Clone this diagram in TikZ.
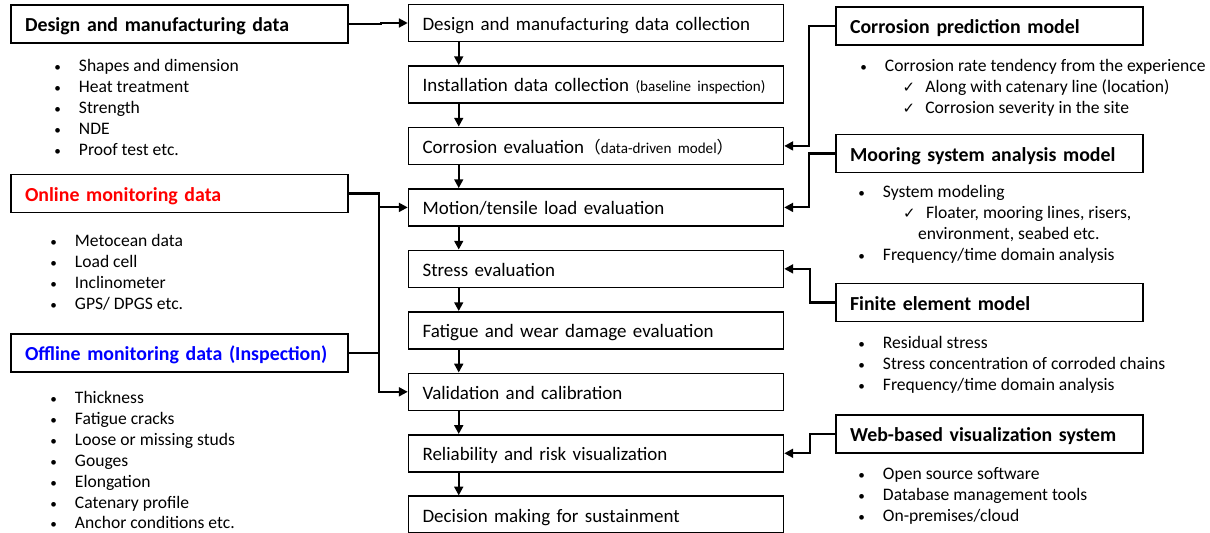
\documentclass[tikz,border=0pt]{standalone}
\usepackage{fontspec}
\usepackage{xcolor}
\setmainfont{Carlito}
\newfontfamily\symfont{DejaVu Sans}
\newfontfamily\cjk{Noto Sans CJK JP}
\usetikzlibrary{positioning,arrows.meta}

\definecolor{onlinered}{RGB}{255,0,0}
\definecolor{offlineblue}{RGB}{0,0,255}

\newcommand{\blt}{\makebox[14pt][l]{\fontsize{7.5}{8}\selectfont •}}
\newcommand{\chk}{\makebox[13pt][l]{\symfont\fontsize{8.5}{9}\selectfont ✓}}
\newcommand{\smalltxt}[1]{{\fontsize{8.6}{10}\selectfont #1}}

\begin{document}
\begin{tikzpicture}[x=0.02cm, y=-0.02cm]
\tikzset{
  stepbox/.style={draw, line width=0.9pt, inner xsep=0.28cm, inner ysep=3pt, text width=6.94cm,
    text height=11.5pt, text depth=3pt,
    minimum height=0.74cm, align=left, font=\fontsize{10.8}{12}\selectfont},
  srcbox/.style={draw, line width=0.9pt, inner xsep=0.28cm, inner ysep=3pt, text width=6.18cm,
    text height=12pt, text depth=3pt,
    minimum height=0.76cm, align=left, font=\bfseries\fontsize{11.3}{13}\selectfont},
  modelbox/.style={srcbox, text width=5.58cm},
  list/.style={align=left, inner sep=0pt, anchor=north west,
    font=\fontsize{10}{11.9}\selectfont},
  flow/.style={-{Triangle[length=5pt,width=5pt]}, line width=1.2pt},
  bus/.style={line width=1.2pt}
}
\useasboundingbox (0,0) rectangle (1210,533);

% main flow
\node[stepbox] (collect) at (596,23) {Design and manufacturing data collection};
\node[stepbox, below=0.458cm of collect] (install) {Installation data collection \smalltxt{(baseline inspection)}};
\node[stepbox, below=0.458cm of install] (corrode) {Corrosion evaluation{\cjk\fontsize{9.5}{10}\selectfont （}\smalltxt{data-driven model}{\cjk\fontsize{9.5}{10}\selectfont ）}};
\node[stepbox, below=0.458cm of corrode] (motion) {Motion/tensile load evaluation};
\node[stepbox, below=0.458cm of motion] (stress) {Stress evaluation};
\node[stepbox, below=0.458cm of stress] (fatigue) {Fatigue and wear damage evaluation};
\node[stepbox, below=0.458cm of fatigue] (valid) {Validation and calibration};
\node[stepbox, below=0.458cm of valid] (risk) {Reliability and risk visualization};
\node[stepbox, below=0.458cm of risk] (decide) {Decision making for sustainment};

\foreach \a/\b in {collect/install, install/corrode, corrode/motion, motion/stress,
    stress/fatigue, fatigue/valid, valid/risk, risk/decide}
  \draw[flow] ([xshift=1.02cm]\a.south west) -- ([xshift=1.02cm]\b.north west);

% data sources
\node[srcbox] (design) at (179.5,24) {Design and manufacturing data};
\node[list] (designlist) at (54,59) {\blt Shapes and dimension\\ \blt Heat treatment\\
  \blt Strength\\ \blt NDE\\ \blt Proof test etc.};

\node[srcbox, text=onlinered] (online) at (179.5,193.5) {Online monitoring data};
\node[list] (onlinelist) at (50,234) {\blt Metocean data\\ \blt Load cell\\
  \blt Inclinometer\\ \blt GPS/ DPGS etc.};

\node[srcbox, text=offlineblue] (offline) at (179.5,353) {Offline monitoring data (Inspection)};
\node[list] (offlinelist) at (50,391) {\blt Thickness\\ \blt Fatigue cracks\\
  \blt Loose or missing studs\\ \blt Gouges\\ \blt Elongation\\
  \blt Catenary profile\\ \blt Anchor conditions etc.};

% models
\node[modelbox] (predict) at (989.5,26) {Corrosion prediction model};
\node[list] (predictlist) at (860,59) {\blt Corrosion rate tendency from the experience\\
  \hspace{24pt}\chk Along with catenary line (location)\\
  \hspace{24pt}\chk Corrosion severity in the site};

\node[modelbox] (mooring) at (989.5,153.5) {Mooring system analysis model};
\node[list] (mooringlist) at (858,185) {\blt System modeling\\
  \hspace{25.5pt}\chk Floater, mooring lines, risers,\\
  \hspace{34pt}environment, seabed etc.\\
  \blt Frequency/time domain analysis};

\node[modelbox] (fem) at (989.5,302.5) {Finite element model};
\node[list] (femlist) at (858,336) {\blt Residual stress\\
  \blt Stress concentration of corroded chains\\ \blt Frequency/time domain analysis};

\node[modelbox] (web) at (989.5,434) {Web-based visualization system};
\node[list] (weblist) at (858,467) {\blt Open source software\\
  \blt Database management tools\\ \blt On-premises/cloud};

% connectors
\draw[flow] (design.east) -- ++(32,0) |- (collect.west);
\draw[flow] (online.east) -- ++(30,0) |- (valid.west);
\draw[flow] (online.east) ++(30,0) |- (motion.west);
\draw[bus] (offline.east) -- ++(30,0);
\draw[flow] (predict.west) -- ++(-26,0) |- (corrode.east);
\draw[flow] (mooring.west) -- ++(-26,0) |- (motion.east);
\draw[flow] (fem.west) -- ++(-25,0) |- (stress.east);
\draw[flow] (web.west) -- ++(-25,0) |- (risk.east);
\end{tikzpicture}
\end{document}
